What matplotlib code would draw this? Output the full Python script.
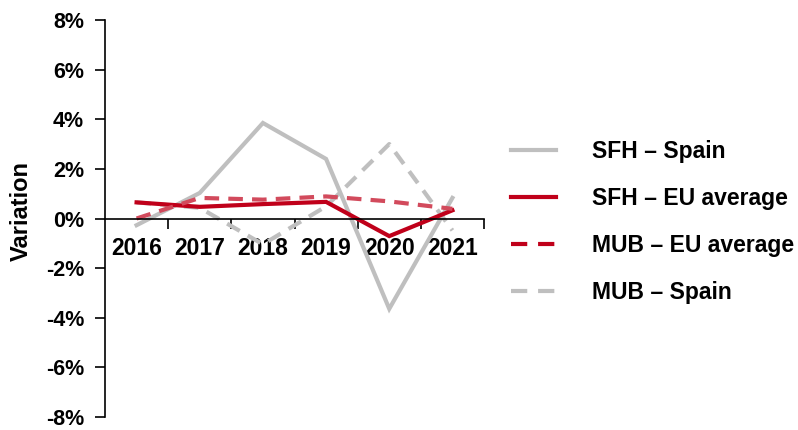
import matplotlib
matplotlib.use("Agg")
import matplotlib.pyplot as plt
from matplotlib.lines import Line2D
from matplotlib.ticker import FuncFormatter, FixedLocator

# datos (variación anual, %)
years = ["2016", "2017", "2018", "2019", "2020", "2021"]
sfh_spain = [-0.27, 1.03, 3.85, 2.40, -3.64, 0.83]
sfh_eu = [0.65, 0.47, 0.58, 0.67, -0.71, 0.33]
mub_eu = [0.00, 0.83, 0.76, 0.89, 0.69, 0.39]
mub_spain = [0.65, 0.43, -1.04, 0.49, 3.00, -0.48]

legend_labels = ["SFH – Spain", "SFH – EU average", "MUB – EU average", "MUB – Spain"]

gray = "#BFBFBF"
red = "#C0001A"
red_light = "#D24A5C"

plt.rcParams['font.family'] = ['Liberation Sans', 'DejaVu Sans']
plt.rcParams['font.weight'] = 'bold'

fig = plt.figure(figsize=(7.98, 4.30), dpi=100)
ax = fig.add_axes([105 / 798, 1 - 417 / 430, (484 - 105) / 798, (417 - 20) / 430])

x = list(range(len(years)))
lw = 3.0
dash = (3.5, 2.2)

ax.plot(x, sfh_spain, color=gray, lw=lw, solid_joinstyle='miter')
ax.plot(x, mub_spain, color=gray, lw=lw, dashes=dash)
ax.plot(x, sfh_eu, color=red, lw=lw, solid_joinstyle='miter')
ax.plot(x, mub_eu, color=red_light, lw=lw, dashes=dash)

ax.set_xlim(-0.5, len(years) - 0.5)
ax.set_ylim(-8, 8)
ax.set_yticks(range(-8, 9, 2))
ax.yaxis.set_major_formatter(FuncFormatter(lambda v, p: f"{v:.0f}%"))

# eje x en el 0, marcas entre categorías
ax.spines['bottom'].set_position(('data', 0))
ax.spines['top'].set_visible(False)
ax.spines['right'].set_visible(False)
ax.spines['left'].set_linewidth(1.2)
ax.spines['bottom'].set_linewidth(1.2)

ax.xaxis.set_major_locator(FixedLocator([i + 0.5 for i in x]))
ax.xaxis.set_major_formatter(FuncFormatter(lambda v, p: ""))
ax.set_xticks(x, years, minor=True)
ax.tick_params(axis='x', which='major', direction='out', length=7, width=1.2)
ax.tick_params(axis='x', which='minor', length=0, pad=13, labelsize=16.5)
ax.tick_params(axis='y', direction='out', length=7, width=1.2, pad=8, labelsize=15.5)

ax.set_ylabel("Variation", fontsize=17, fontweight='bold')
ax.yaxis.set_label_coords(-0.19, 0.52)

handles = [
    Line2D([], [], color=gray, lw=lw),
    Line2D([], [], color=red, lw=lw),
    Line2D([], [], color=red, lw=lw, dashes=(3.9, 2.6)),
    Line2D([], [], color=gray, lw=lw, dashes=(3.9, 2.6)),
]
fig.legend(handles, legend_labels, loc='center left', bbox_to_anchor=(511 / 798, 1 - 222 / 430),
           frameon=False, fontsize=16.5, handlelength=1.97, handletextpad=1.57,
           labelspacing=1.05, borderpad=0, borderaxespad=0)

fig.savefig("out.png", dpi=100)
